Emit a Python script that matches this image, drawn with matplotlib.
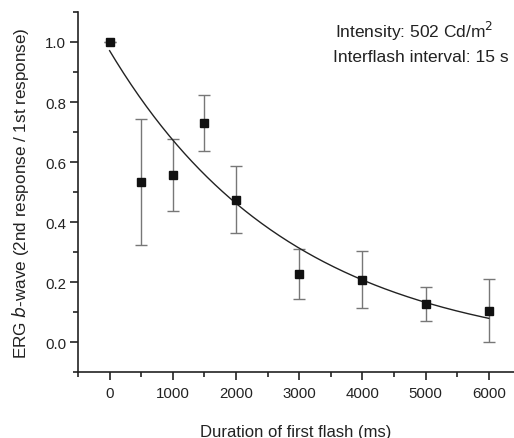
import numpy as np
import matplotlib.pyplot as plt
from matplotlib.ticker import MultipleLocator

plt.rcParams['font.family'] = ['Liberation Sans', 'DejaVu Sans']

# measured points
duration = [0, 500, 1000, 1500, 2000, 3000, 4000, 5000, 6000]
ratio = [1.0, 0.534, 0.557, 0.730, 0.475, 0.226, 0.208, 0.126, 0.104]
err = [0.0, 0.211, 0.121, 0.094, 0.113, 0.084, 0.095, 0.056, 0.105]

# exponential decay fit: y0 + A * exp(-x / tau)
fit_y0 = -0.05
fit_A = 1.021
fit_tau = 2900.0

fig = plt.figure(figsize=(5.14, 4.39), dpi=100)
ax = fig.add_axes([0.1518, 0.1503, 0.8482, 0.8201])

xs = np.linspace(0, 6000, 300)
ax.plot(xs, fit_y0 + fit_A * np.exp(-xs / fit_tau), color='#222222', lw=1.0, zorder=2)

ax.errorbar(duration, ratio, yerr=err, fmt='none', ecolor='#777777',
            elinewidth=1.0, capsize=4, capthick=1.0, zorder=1)
ax.plot(duration, ratio, 's', color='#111111', ms=5.3, zorder=3)

ax.set_xlim(-500, 6400)
ax.set_ylim(-0.1, 1.1)
ax.xaxis.set_minor_locator(MultipleLocator(500))
ax.yaxis.set_minor_locator(MultipleLocator(0.1))
ax.set_yticks([0.0, 0.2, 0.4, 0.6, 0.8, 1.0])
ax.set_yticklabels(['0.0', '0.2', '0.4', '0.6', '0.8', '1.0'])
ax.set_xticks([0, 1000, 2000, 3000, 4000, 5000, 6000])

for s in ['top', 'right']:
    ax.spines[s].set_visible(False)
for s in ['left', 'bottom']:
    ax.spines[s].set_linewidth(1.2)
    ax.spines[s].set_color('#222222')

ax.tick_params(which='major', direction='out', length=6, width=1.2,
               labelsize=10.8, colors='#222222')
ax.tick_params(axis='y', which='major', pad=2.5)
ax.tick_params(axis='x', which='major', pad=4)
ax.tick_params(which='minor', direction='out', length=3.5, width=1.2, colors='#222222')

ax.set_xlabel('Duration of first flash (ms)', fontsize=12, labelpad=17, color='#222222')
ax.set_ylabel('ERG $b$-wave (2nd response / 1st response)', fontsize=12.3,
              labelpad=10, color='#222222')

ax.text(0.5894, 0.9297, 'Intensity: 502 Cd/m$^2$', transform=ax.transAxes,
        fontsize=12.5, color='#222222', va='baseline')
ax.text(0.5842, 0.8647, 'Interflash interval: 15 s', transform=ax.transAxes,
        fontsize=12.5, color='#222222', va='baseline')

fig.savefig('out.png', dpi=100)
